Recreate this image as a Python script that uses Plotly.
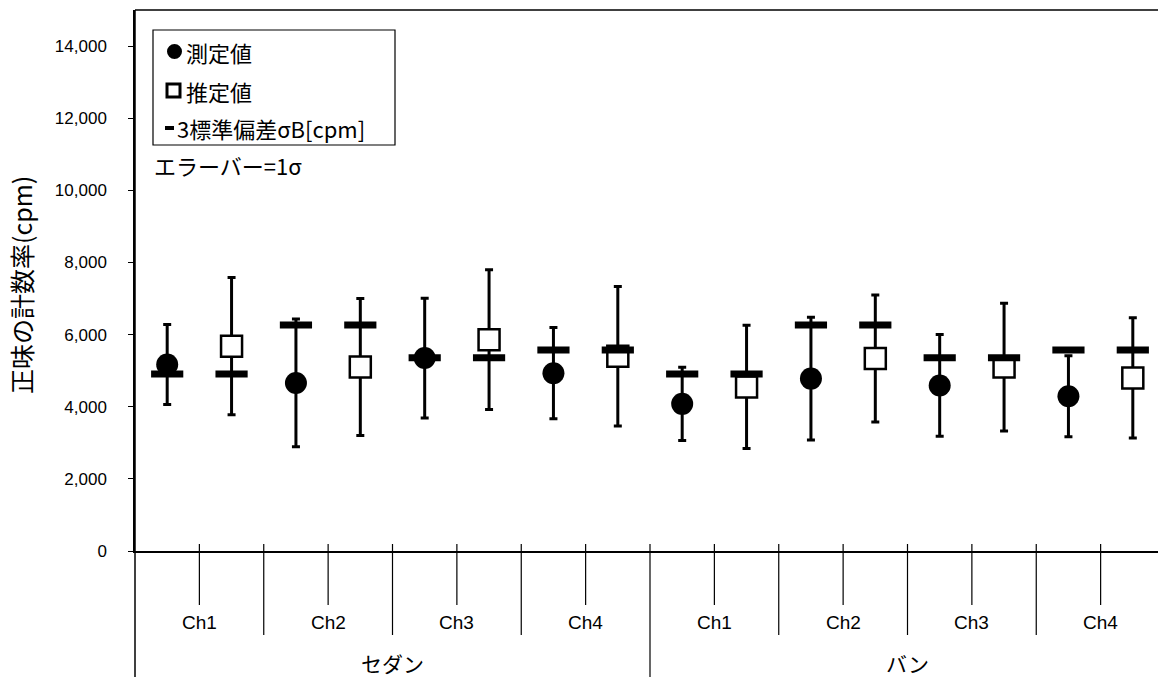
import plotly.graph_objects as go

# ---- data ----
vehicles = ["セダン", "バン"]
channels = ["Ch1", "Ch2", "Ch3", "Ch4"]
measured = [5170, 4660, 5350, 4930, 4080, 4780, 4590, 4290]
measured_err = [1110, 1770, 1660, 1265, 1015, 1700, 1410, 1125]
estimated = [5680, 5100, 5860, 5400, 4550, 5340, 5100, 4800]
estimated_err = [1905, 1900, 1940, 1935, 1710, 1760, 1770, 1670]
sigma3 = [4910, 6265, 5355, 5575, 4910, 6265, 5355, 5575]
y_ticks = [0, 2000, 4000, 6000, 8000, 10000, 12000, 14000]
legend_labels = ["測定値", "推定値", "3標準偏差σB[cpm]"]
note_text = "エラーバー=1σ"
y_title = "正味の計数率(cpm)"

W, H = 1158, 677
ML, MR, MT, MB = 135, 0, 10, 126
plot_w = W - ML - MR
plot_h = H - MT - MB
slot = 1030 / 16.0  # px per category slot
x_max = -0.5 + plot_w / slot

n = len(measured)
x_meas = [2 * i for i in range(n)]
x_est = [2 * i + 1 for i in range(n)]

JP = "Noto Sans CJK JP"
LAT = "Liberation Sans, Arial, Noto Sans CJK JP"

fig = go.Figure()

fig.add_trace(go.Scatter(
    x=x_meas, y=measured, mode="markers", name=legend_labels[0],
    marker=dict(symbol="circle", size=22, color="black", line=dict(width=0)),
    error_y=dict(type="data", array=measured_err, visible=True,
                 color="black", thickness=3, width=4),
    showlegend=False))

fig.add_trace(go.Scatter(
    x=x_est, y=estimated, mode="markers", name=legend_labels[1],
    marker=dict(symbol="square", size=21, color="white",
                line=dict(width=2.5, color="black")),
    error_y=dict(type="data", array=estimated_err, visible=True,
                 color="black", thickness=3, width=4),
    showlegend=False))

fig.add_trace(go.Scatter(
    x=x_meas + x_est, y=sigma3 + sigma3, mode="markers", name=legend_labels[2],
    marker=dict(symbol="line-ew", size=23, color="black",
                line=dict(width=7, color="black")),
    showlegend=False))

shapes = []
def px2py(py):
    return (H - MB - py) / plot_h

def px2px(px):
    return (px - ML) / plot_w

# top border
shapes.append(dict(type="line", xref="paper", yref="paper", x0=0, x1=1, y0=1, y1=1,
                   line=dict(color="black", width=1.5)))
# left border extended down
shapes.append(dict(type="line", xref="paper", yref="paper", x0=0, x1=0, y0=1, y1=px2py(H),
                   line=dict(color="black", width=1.5)))
# category dividers
for k in range(16):
    xb = k + 0.5
    if k % 2 == 0:
        y0, y1 = px2py(544), px2py(605)
    elif k == 7 or k == 15:
        y0, y1 = px2py(544), px2py(H)
    else:
        y0, y1 = px2py(544), px2py(635)
    shapes.append(dict(type="line", xref="x", yref="paper", x0=xb, x1=xb, y0=y0, y1=y1,
                       line=dict(color="black", width=1.2)))

# legend box
shapes.append(dict(type="rect", xref="paper", yref="paper",
                   x0=px2px(153), x1=px2px(395),
                   y0=px2py(145), y1=px2py(30),
                   line=dict(color="black", width=1.2), fillcolor="white"))
# legend symbols
shapes.append(dict(type="circle", xref="paper", yref="paper",
                   x0=px2px(167), x1=px2px(182), y0=px2py(59), y1=px2py(44),
                   line=dict(color="black", width=0), fillcolor="black"))
shapes.append(dict(type="rect", xref="paper", yref="paper",
                   x0=px2px(167), x1=px2px(180), y0=px2py(97), y1=px2py(84),
                   line=dict(color="black", width=3), fillcolor="white"))
shapes.append(dict(type="rect", xref="paper", yref="paper",
                   x0=px2px(165), x1=px2px(174), y0=px2py(130), y1=px2py(126),
                   line=dict(color="black", width=0), fillcolor="black"))

annotations = []
# channel labels
for gi in range(8):
    annotations.append(dict(x=2 * gi + 0.5, y=px2py(622), xref="x", yref="paper",
                            xanchor="center", yanchor="middle",
                            text=channels[gi % 4], showarrow=False,
                            font=dict(family=LAT, size=19, color="black")))
for vi, v in enumerate(vehicles):
    annotations.append(dict(x=8 * vi + 3.5, y=px2py(663), xref="x", yref="paper",
                            xanchor="center", yanchor="middle",
                            text=v, showarrow=False,
                            font=dict(family=JP, size=21, color="black")))

# axis title
annotations.append(dict(x=px2px(21), y=px2py(285), xref="paper", yref="paper",
                        xanchor="center", yanchor="middle",
                        text=y_title, showarrow=False, textangle=-90,
                        font=dict(family=JP, size=25, color="black")))

# legend texts
leg_pos = [(184, 52), (184, 91), (175, 128)]
for t, (px, py) in zip(legend_labels, leg_pos):
    annotations.append(dict(x=px2px(px), y=px2py(py), xref="paper", yref="paper",
                            xanchor="left", yanchor="middle", text=t, showarrow=False,
                            font=dict(family=JP, size=22, color="black")))
annotations.append(dict(x=px2px(152), y=px2py(165), xref="paper", yref="paper",
                        xanchor="left", yanchor="middle", text=note_text, showarrow=False,
                        font=dict(family=JP, size=22, color="black")))

fig.update_layout(
    width=W, height=H,
    margin=dict(l=ML, r=MR, t=MT, b=MB, pad=0),
    paper_bgcolor="white", plot_bgcolor="white",
    xaxis=dict(range=[-0.5, x_max], showgrid=False, zeroline=False,
               showticklabels=False, ticks="", showline=True,
               linecolor="black", linewidth=2, fixedrange=True),
    yaxis=dict(range=[0, 15000], tickvals=y_ticks,
               ticktext=[f"{v:,}" for v in y_ticks],
               showgrid=False, zeroline=False, showline=True,
               linecolor="black", linewidth=1.5,
               ticks="outside", ticklen=5, tickwidth=1.2, tickcolor="black",
               ticklabelstandoff=18,
               tickfont=dict(family=LAT, size=17, color="black")),
    shapes=shapes, annotations=annotations,
)

fig.write_html("out.html")
